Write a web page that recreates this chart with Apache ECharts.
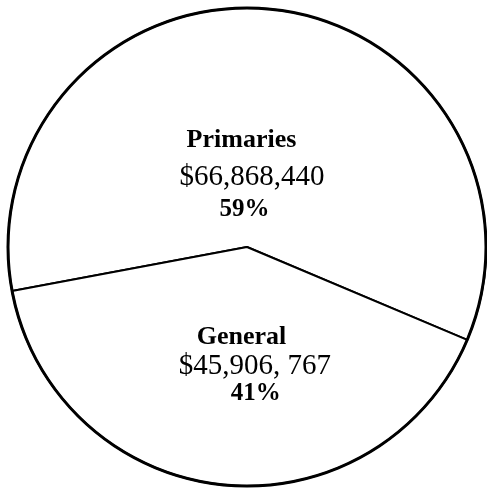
<!DOCTYPE html>
<html>
<head>
<meta charset="utf-8">
<script src="https://cdn.jsdelivr.net/npm/echarts@6/dist/echarts.min.js"></script>
<style>
html,body{margin:0;padding:0;background:#fff;}
#chart{width:487px;height:490px;}
</style>
</head>
<body>
<div id="chart"></div>
<script>
const categories = ['Primaries', 'General'];
const amounts = [66868440, 45906767];
const amountLabels = ['$66,868,440', '$45,906, 767'];
const percentLabels = ['59%', '41%'];

const labelOffsets = [[-8, 47], [21, -5]];
const lineBoxes = [[37, 37, 27], [30, 30, 24]];
const linePads = [[7, 0, 40], [18, 0, 52]];

const chart = echarts.init(document.getElementById('chart'), null, {renderer: 'canvas'});
const FONT = '"Liberation Serif", "Times New Roman", serif';

const data = categories.map((c, i) => ({
  name: c,
  value: amounts[i],
  label: {
    offset: labelOffsets[i],
    rich: {
      name: {fontFamily: FONT, fontWeight: 'bold', fontSize: 26, color: '#000', lineHeight: lineBoxes[i][0], align: 'left', padding: [0, 0, 0, linePads[i][0]]},
      amt: {fontFamily: FONT, fontWeight: 'normal', fontSize: 29, color: '#000', lineHeight: lineBoxes[i][1], align: 'left', padding: [0, 0, 0, linePads[i][1]]},
      pct: {fontFamily: FONT, fontWeight: 'bold', fontSize: 25, color: '#000', lineHeight: lineBoxes[i][2], align: 'left', padding: [0, 0, 0, linePads[i][2]]}
    }
  }
}));

chart.setOption({
  backgroundColor: '#fff',
  animation: false,
  series: [{
    type: 'pie',
    center: [247, 247],
    radius: [0, 239],
    startAngle: 190.6,
    clockwise: true,
    silent: true,
    avoidLabelOverlap: false,
    itemStyle: {color: '#fff', borderColor: '#000', borderWidth: 2},
    emphasis: {disabled: true},
    labelLine: {show: false},
    label: {
      show: true,
      position: 'inside',
      formatter: p => '{name|' + categories[p.dataIndex] + '}\n{amt|' + amountLabels[p.dataIndex] + '}\n{pct|' + percentLabels[p.dataIndex] + '}'
    },
    data: data
  }, {
    type: 'pie',
    center: [247, 247],
    radius: [237.5, 240.5],
    silent: true,
    itemStyle: {color: '#000', borderWidth: 0},
    emphasis: {disabled: true},
    label: {show: false},
    labelLine: {show: false},
    data: [{name: 'outline', value: amounts[0] + amounts[1]}]
  }]
});
</script>
</body>
</html>
